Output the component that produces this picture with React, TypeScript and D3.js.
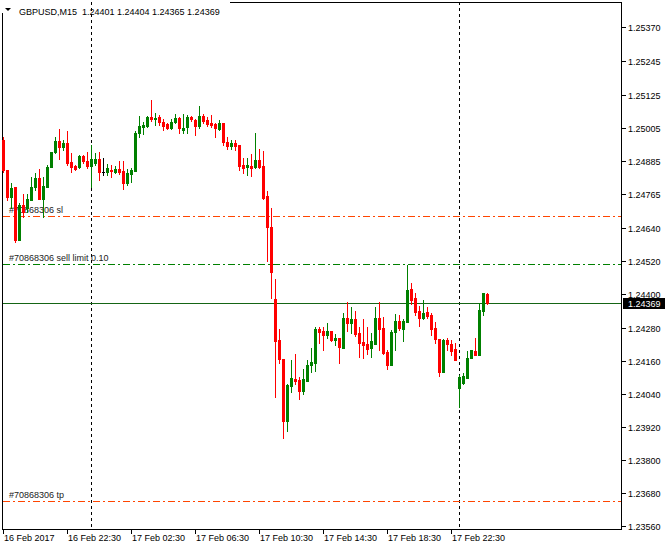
import React from 'react';
import * as d3 from 'd3';

// OHLC of GBPUSD M15 bars (one per bar, left to right)
const opens = [
  1.24960, 1.24851, 1.24753, 1.24790, 1.24597, 1.24724, 1.24714, 1.24743, 1.24790, 1.24822,
  1.24746, 1.24790, 1.24862, 1.24917, 1.24957, 1.24935, 1.24949, 1.24880, 1.24866, 1.24862,
  1.24902, 1.24884, 1.24866, 1.24877, 1.24891, 1.24844, 1.24844, 1.24851, 1.24844, 1.24855,
  1.24848, 1.24804, 1.24837, 1.24848, 1.24986, 1.25007, 1.25011, 1.25044, 1.25036, 1.25044,
  1.25025, 1.25018, 1.25004, 1.25025, 1.25040, 1.24996, 1.25007, 1.25044, 1.25033, 1.25011,
  1.25047, 1.25033, 1.25022, 1.25018, 1.25000, 1.25022, 1.24953, 1.24938, 1.24949, 1.24942,
  1.24869, 1.24862, 1.24866, 1.24862, 1.24888, 1.24866, 1.24757, 1.24645, 1.24383, 1.24235,
  1.24166, 1.23941, 1.24068, 1.24093, 1.24090, 1.24050, 1.24086, 1.24144, 1.24151, 1.24275,
  1.24267, 1.24253, 1.24267, 1.24235, 1.24242, 1.24206, 1.24314, 1.24296, 1.24311, 1.24260,
  1.24227, 1.24220, 1.24206, 1.24220, 1.24314, 1.24278, 1.24191, 1.24144, 1.24264, 1.24304,
  1.24275, 1.24300, 1.24420, 1.24387, 1.24340, 1.24314, 1.24336, 1.24325, 1.24278, 1.24238,
  1.24119, 1.24235, 1.24220, 1.24202, 1.24061, 1.24079, 1.24097, 1.24169, 1.24195, 1.24180,
  1.24340, 1.24401,
];
const highs = [
  1.24971, 1.24851, 1.24804, 1.24790, 1.24732, 1.24764, 1.24764, 1.24826, 1.24840, 1.24855,
  1.24826, 1.24869, 1.24917, 1.24971, 1.25000, 1.24960, 1.24993, 1.24913, 1.24869, 1.24906,
  1.24906, 1.24917, 1.24942, 1.24913, 1.24917, 1.24895, 1.24873, 1.24869, 1.24866, 1.24884,
  1.24884, 1.24855, 1.24859, 1.24993, 1.25047, 1.25025, 1.25047, 1.25105, 1.25058, 1.25051,
  1.25036, 1.25022, 1.25036, 1.25054, 1.25044, 1.25054, 1.25051, 1.25047, 1.25036, 1.25084,
  1.25054, 1.25044, 1.25051, 1.25022, 1.25033, 1.25022, 1.24971, 1.24960, 1.24960, 1.24942,
  1.24895, 1.24895, 1.24909, 1.24986, 1.24928, 1.24920, 1.24775, 1.24714, 1.24456, 1.24275,
  1.24166, 1.24075, 1.24162, 1.24184, 1.24100, 1.24130, 1.24162, 1.24206, 1.24282, 1.24282,
  1.24282, 1.24296, 1.24267, 1.24256, 1.24242, 1.24333, 1.24373, 1.24354, 1.24340, 1.24282,
  1.24311, 1.24282, 1.24260, 1.24354, 1.24373, 1.24318, 1.24198, 1.24271, 1.24329, 1.24325,
  1.24311, 1.24507, 1.24441, 1.24405, 1.24358, 1.24380, 1.24354, 1.24333, 1.24300, 1.24238,
  1.24238, 1.24242, 1.24235, 1.24224, 1.24108, 1.24115, 1.24195, 1.24198, 1.24242, 1.24369,
  1.24405, 1.24404,
];
const lows = [
  1.24844, 1.24743, 1.24714, 1.24590, 1.24597, 1.24681, 1.24699, 1.24743, 1.24779, 1.24746,
  1.24681, 1.24790, 1.24862, 1.24913, 1.24891, 1.24924, 1.24869, 1.24844, 1.24851, 1.24859,
  1.24877, 1.24859, 1.24790, 1.24869, 1.24815, 1.24833, 1.24833, 1.24826, 1.24840, 1.24837,
  1.24782, 1.24797, 1.24808, 1.24848, 1.24971, 1.24982, 1.25007, 1.25029, 1.25015, 1.25015,
  1.24996, 1.25000, 1.25000, 1.25022, 1.24986, 1.24986, 1.24986, 1.25029, 1.24978, 1.25004,
  1.25022, 1.25011, 1.25007, 1.24971, 1.24996, 1.24942, 1.24928, 1.24928, 1.24924, 1.24851,
  1.24840, 1.24833, 1.24830, 1.24859, 1.24859, 1.24746, 1.24521, 1.24387, 1.24028, 1.24151,
  1.23879, 1.23905, 1.24046, 1.24075, 1.24021, 1.24039, 1.24086, 1.24119, 1.24122, 1.24224,
  1.24198, 1.24242, 1.24231, 1.24217, 1.24151, 1.24206, 1.24267, 1.24260, 1.24249, 1.24173,
  1.24169, 1.24184, 1.24173, 1.24220, 1.24198, 1.24184, 1.24130, 1.24144, 1.24198, 1.24271,
  1.24231, 1.24300, 1.24365, 1.24325, 1.24285, 1.24311, 1.24314, 1.24253, 1.24224, 1.24104,
  1.24119, 1.24198, 1.24180, 1.24162, 1.23992, 1.24075, 1.24097, 1.24169, 1.24180, 1.24180,
  1.24325, 1.24365,
];
const closes = [
  1.24851, 1.24753, 1.24786, 1.24597, 1.24724, 1.24699, 1.24746, 1.24790, 1.24822, 1.24746,
  1.24793, 1.24862, 1.24917, 1.24957, 1.24935, 1.24949, 1.24877, 1.24862, 1.24855, 1.24902,
  1.24884, 1.24866, 1.24891, 1.24891, 1.24844, 1.24844, 1.24859, 1.24848, 1.24855, 1.24844,
  1.24804, 1.24840, 1.24851, 1.24986, 1.25011, 1.25015, 1.25044, 1.25036, 1.25040, 1.25025,
  1.25011, 1.25004, 1.25025, 1.25040, 1.25004, 1.25004, 1.25044, 1.25036, 1.25011, 1.25047,
  1.25029, 1.25018, 1.25015, 1.25004, 1.25022, 1.24953, 1.24938, 1.24949, 1.24938, 1.24866,
  1.24859, 1.24869, 1.24859, 1.24888, 1.24862, 1.24750, 1.24645, 1.24481, 1.24231, 1.24166,
  1.23941, 1.24071, 1.24097, 1.24086, 1.24050, 1.24093, 1.24144, 1.24155, 1.24275, 1.24264,
  1.24253, 1.24267, 1.24235, 1.24242, 1.24209, 1.24314, 1.24296, 1.24311, 1.24256, 1.24224,
  1.24217, 1.24202, 1.24231, 1.24314, 1.24275, 1.24188, 1.24144, 1.24264, 1.24304, 1.24278,
  1.24304, 1.24416, 1.24380, 1.24336, 1.24314, 1.24333, 1.24322, 1.24275, 1.24238, 1.24119,
  1.24235, 1.24220, 1.24195, 1.24162, 1.24100, 1.24104, 1.24169, 1.24198, 1.24180, 1.24344,
  1.24405, 1.24369,
];

const symbolTitle = 'GBPUSD,M15';
const timeLabels = ['16 Feb 2017', '16 Feb 22:30', '17 Feb 02:30', '17 Feb 06:30', '17 Feb 10:30', '17 Feb 14:30', '17 Feb 18:30', '17 Feb 22:30'];
const timeLabelBars = [0, 16, 32, 48, 64, 80, 96, 112];
const priceTicks = [1.25370, 1.25245, 1.25125, 1.25005, 1.24885, 1.24765, 1.24640, 1.24520, 1.24400, 1.24280, 1.24160, 1.24040, 1.23920, 1.23800, 1.23680, 1.23560];
const separatorBars = [22, 114];
const orderLabels = ['#70868306 sl', '#70868306 sell limit 0.10', '#70868306 tp'];
const orderPrices = [1.24685, 1.24510, 1.23651];
const orderKinds = ['stop', 'limit', 'stop'];
const bidPrice = 1.24369;

const W = 665;
const H = 549;
const FONT = '"Liberation Sans", Arial, sans-serif';

export default function App() {
  const n = opens.length;
  const frameL = 2;
  const frameR = 621;
  const frameT = 2;
  const frameB = 529;

  const x = d3.scaleLinear().domain([0, n - 1]).range([3, 3 + 4 * (n - 1)]);
  const y = d3.scaleLinear().domain([1.2356, 1.2537]).range([526, 27]);
  const fmt = d3.format('.5f');

  const up = '#008000';
  const down = '#ff0000';

  const last = n - 1;
  const title = `${symbolTitle}  ${fmt(opens[last])} ${fmt(highs[last])} ${fmt(lows[last])} ${fmt(closes[last])}`;

  const levelColor = (k: string) => (k === 'stop' ? '#ff4500' : '#008000');
  const bidY = Math.round(y(bidPrice)) + 0.5;

  return (
    <svg width={W} height={H} style={{ position: 'absolute', left: 0, top: 0, background: '#fff' }} fontFamily={FONT}>
      <rect x={0} y={0} width={W} height={H} fill="#fff" />

      {/* frame */}
      <line x1={frameL + 0.5} x2={frameL + 0.5} y1={13} y2={frameB + 0.5} stroke="#000" />
      <line x1={frameL} x2={frameR + 0.5} y1={frameB + 0.5} y2={frameB + 0.5} stroke="#000" />
      <line x1={230} x2={frameR + 0.5} y1={frameT + 0.5} y2={frameT + 0.5} stroke="#000" />
      <line x1={frameR + 0.5} x2={frameR + 0.5} y1={frameT} y2={frameB + 1} stroke="#000" />

      {/* period separators */}
      {separatorBars.map((b, i) => (
        <line key={'sep' + i} x1={Math.round(x(b)) + 0.5} x2={Math.round(x(b)) + 0.5} y1={frameT} y2={frameB} stroke="#000" strokeDasharray="3,3" />
      ))}

      {/* order labels */}
      {orderLabels.map((t, i) => (
        <text key={'ol' + i} x={9} y={Math.round(y(orderPrices[i])) - 3} fontSize={9} fill="#222">{t}</text>
      ))}

      {/* order levels */}
      {orderPrices.map((p, i) => (
        <line key={'lv' + i} x1={frameL + 1} x2={frameR} y1={Math.round(y(p)) + 0.5} y2={Math.round(y(p)) + 0.5} stroke={levelColor(orderKinds[i])} strokeDasharray="7,3,2,3" />
      ))}

      {/* bid line */}
      <line x1={frameL + 1} x2={frameR} y1={bidY} y2={bidY} stroke="#156515" />

      {/* candles */}
      {opens.map((o, i) => {
        const c = closes[i];
        const cx = Math.round(x(i));
        const doji = Math.abs(o - c) < 1e-9;
        const col = doji ? '#000' : c > o ? up : down;
        const yTop = Math.round(y(Math.max(o, c)));
        const yBot = Math.round(y(Math.min(o, c)));
        const yH = Math.round(y(highs[i]));
        const yL = Math.round(y(lows[i]));
        return (
          <g key={'c' + i}>
            <rect x={cx} y={yH} width={1} height={Math.max(1, yL - yH + 1)} fill={col} />
            <rect x={cx - 1} y={yTop} width={3} height={Math.max(1, yBot - yTop + 1)} fill={col} />
          </g>
        );
      })}

      {/* price axis */}
      {priceTicks.map((p, i) => {
        const ty = Math.round(y(p)) + 0.5;
        return (
          <g key={'pt' + i}>
            <line x1={frameR + 1} x2={frameR + 5} y1={ty} y2={ty} stroke="#000" />
            <text x={628} y={ty} dy="0.35em" fontSize={9} fill="#000">{fmt(p)}</text>
          </g>
        );
      })}

      {/* bid label */}
      <rect x={623} y={bidY - 5.5} width={W - 623} height={11} fill="#000" />
      <text x={628} y={bidY} dy="0.35em" fontSize={9} fill="#fff">{fmt(bidPrice)}</text>

      {/* time axis */}
      {timeLabels.map((t, i) => {
        const tx = Math.round(x(timeLabelBars[i])) + 0.5;
        return (
          <g key={'tl' + i}>
            <line x1={tx} x2={tx} y1={frameB + 1} y2={frameB + 5} stroke="#000" />
            <text x={tx + 0.5} y={541} fontSize={9} fill="#000">{t}</text>
          </g>
        );
      })}

      {/* title */}
      <path d="M5,8 L11,8 L8,11 Z" fill="#000" />
      <text x={19} y={15} fontSize={9} fill="#000" style={{ whiteSpace: 'pre' }}>{title}</text>
    </svg>
  );
}
